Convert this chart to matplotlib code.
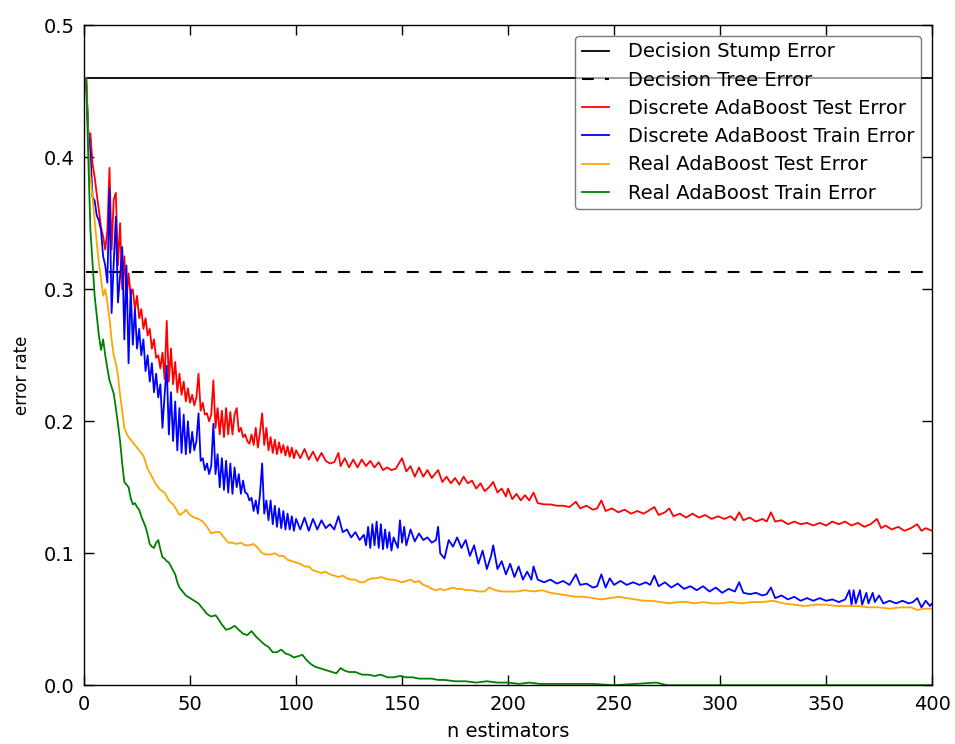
"""
AdaBoost 離散 / 實數版本的錯誤率比較圖
"""
import numpy as np
import matplotlib
matplotlib.use('Agg')
import matplotlib.pyplot as plt

plt.rcParams['font.family'] = ['DejaVu Sans']
plt.rcParams['lines.scale_dashes'] = False

# 基準錯誤率
stump_err = 0.46
tree_err = 0.313

# Discrete AdaBoost 測試誤差
red_n = [1, 2, 3, 4, 5, 6, 7, 8, 9, 10, 11, 12, 13, 14, 15, 16, 17, 18, 19, 20,
         21, 22, 23, 24, 25, 26, 27, 28, 29, 30, 31, 32, 33, 34, 35, 36, 37, 38, 39, 40,
         41, 42, 43, 44, 45, 46, 47, 48, 49, 50, 51, 52, 53, 54, 55, 56, 57, 58, 59, 60,
         61, 62, 63, 64, 65, 66, 67, 68, 69, 70, 71, 72, 73, 74, 75, 76, 77, 78, 79, 80,
         81, 82, 83, 84, 85, 86, 87, 88, 89, 90, 91, 92, 93, 94, 95, 96, 97, 98, 99, 100,
         102, 104, 106, 108, 110, 112, 114, 116, 118, 120, 121, 123, 125, 127, 129, 131,
         133, 135, 137, 139, 141, 143, 145, 147, 150, 152, 154, 156, 158, 160, 162, 164,
         167, 169, 171, 173, 175, 177, 179, 181, 183, 185, 187, 189, 191, 193, 195, 197,
         199, 200, 202, 204, 206, 208, 210, 212, 214, 217, 220, 223, 226, 229, 232, 234,
         237, 240, 242, 244, 246, 249, 252, 255, 258, 261, 264, 266, 269, 271, 274, 276,
         278, 281, 284, 287, 290, 293, 296, 299, 302, 305, 307, 309, 311, 314, 317, 320,
         322, 324, 326, 329, 332, 335, 338, 341, 344, 347, 350, 353, 356, 359, 362, 365,
         368, 371, 374, 376, 378, 381, 384, 387, 390, 393, 395, 397, 400]
red_err = [0.460, 0.418, 0.418, 0.395, 0.385, 0.372, 0.360, 0.347, 0.340, 0.330,
           0.345, 0.392, 0.330, 0.368, 0.373, 0.318, 0.350, 0.300, 0.325, 0.290,
           0.312, 0.296, 0.300, 0.285, 0.295, 0.278, 0.285, 0.270, 0.278, 0.265,
           0.270, 0.255, 0.262, 0.248, 0.250, 0.240, 0.252, 0.232, 0.276, 0.230,
           0.255, 0.228, 0.245, 0.222, 0.236, 0.220, 0.230, 0.215, 0.225, 0.214,
           0.220, 0.212, 0.218, 0.236, 0.208, 0.214, 0.205, 0.206, 0.200, 0.205,
           0.231, 0.195, 0.210, 0.190, 0.208, 0.188, 0.210, 0.190, 0.207, 0.190,
           0.205, 0.210, 0.192, 0.195, 0.188, 0.190, 0.185, 0.183, 0.190, 0.182,
           0.195, 0.180, 0.192, 0.206, 0.182, 0.195, 0.178, 0.188, 0.176, 0.186,
           0.175, 0.184, 0.176, 0.182, 0.174, 0.181, 0.173, 0.180, 0.172, 0.178,
           0.172, 0.179, 0.171, 0.177, 0.170, 0.176, 0.170, 0.168, 0.169, 0.176,
           0.166, 0.172, 0.165, 0.171, 0.165, 0.171, 0.166, 0.170, 0.165, 0.169,
           0.163, 0.165, 0.163, 0.164, 0.172, 0.162, 0.166, 0.158, 0.165, 0.158,
           0.163, 0.157, 0.163, 0.154, 0.158, 0.153, 0.157, 0.152, 0.158, 0.153,
           0.155, 0.149, 0.153, 0.147, 0.150, 0.154, 0.146, 0.149, 0.143, 0.149,
           0.141, 0.145, 0.140, 0.144, 0.140, 0.146, 0.138, 0.137, 0.137, 0.136,
           0.136, 0.135, 0.139, 0.134, 0.136, 0.133, 0.134, 0.140, 0.132, 0.134,
           0.131, 0.133, 0.130, 0.132, 0.130, 0.132, 0.135, 0.129, 0.131, 0.134,
           0.128, 0.130, 0.127, 0.130, 0.127, 0.129, 0.126, 0.128, 0.126, 0.128,
           0.125, 0.131, 0.125, 0.127, 0.124, 0.126, 0.124, 0.131, 0.124, 0.125,
           0.122, 0.124, 0.122, 0.123, 0.121, 0.123, 0.121, 0.124, 0.122, 0.124,
           0.121, 0.123, 0.120, 0.122, 0.126, 0.119, 0.121, 0.118, 0.120, 0.117,
           0.119, 0.122, 0.117, 0.119, 0.117]

# Discrete AdaBoost 訓練誤差
blue_n = [1, 2, 3, 4, 5, 6, 7, 8, 9, 10, 11, 12, 13, 14, 15, 16, 17, 18, 19, 20,
          21, 22, 23, 24, 25, 26, 27, 28, 29, 30, 31, 32, 33, 34, 35, 36, 37, 38, 39, 40,
          41, 42, 43, 44, 45, 46, 47, 48, 49, 50, 51, 52, 53, 54, 55, 56, 57, 58, 59, 60,
          61, 62, 63, 64, 65, 66, 67, 68, 69, 70, 71, 72, 73, 74, 75, 76, 77, 78, 79, 80,
          81, 82, 83, 84, 85, 86, 87, 88, 89, 90, 91, 92, 93, 94, 95, 96, 97, 98, 99, 100,
          102, 104, 106, 108, 110, 112, 114, 116, 118, 120, 122, 124, 126, 128, 130, 132,
          133, 134, 135, 136, 137, 138, 139, 140, 141, 142, 143, 144, 145, 146, 148, 149,
          150, 151, 152, 154, 156, 158, 160, 162, 164, 166, 167, 168, 170, 172, 174, 176,
          178, 180, 182, 184, 186, 188, 190, 192, 193, 195, 197, 199, 201, 203, 205, 207,
          209, 211, 212, 214, 217, 220, 223, 226, 229, 232, 234, 237, 240, 242, 244, 246,
          248, 250, 253, 256, 259, 262, 265, 267, 269, 271, 274, 277, 280, 283, 286, 289,
          292, 295, 298, 301, 304, 307, 309, 311, 314, 317, 320, 322, 324, 326, 329, 332,
          335, 338, 341, 344, 347, 350, 353, 356, 359, 361, 362, 363, 364, 366, 367, 369,
          370, 372, 373, 375, 377, 380, 383, 386, 389, 391, 393, 395, 397, 399, 400]
blue_err = [0.460, 0.420, 0.403, 0.370, 0.367, 0.356, 0.352, 0.345, 0.325, 0.318,
            0.305, 0.376, 0.282, 0.320, 0.355, 0.290, 0.310, 0.332, 0.262, 0.318,
            0.244, 0.300, 0.258, 0.285, 0.255, 0.270, 0.250, 0.262, 0.238, 0.250,
            0.230, 0.244, 0.222, 0.236, 0.218, 0.228, 0.195, 0.220, 0.242, 0.190,
            0.222, 0.185, 0.215, 0.178, 0.210, 0.176, 0.205, 0.175, 0.200, 0.176,
            0.192, 0.178, 0.185, 0.206, 0.170, 0.172, 0.163, 0.168, 0.160, 0.166,
            0.198, 0.160, 0.175, 0.150, 0.172, 0.148, 0.170, 0.146, 0.168, 0.145,
            0.165, 0.150, 0.160, 0.145, 0.155, 0.146, 0.145, 0.140, 0.142, 0.132,
            0.140, 0.130, 0.145, 0.168, 0.130, 0.140, 0.125, 0.140, 0.122, 0.136,
            0.120, 0.134, 0.119, 0.132, 0.118, 0.130, 0.118, 0.128, 0.117, 0.126,
            0.118, 0.127, 0.117, 0.126, 0.118, 0.125, 0.119, 0.122, 0.118, 0.128,
            0.116, 0.118, 0.112, 0.116, 0.110, 0.114,
            0.106, 0.120, 0.104, 0.122, 0.106, 0.124, 0.104, 0.122, 0.103, 0.118,
            0.104, 0.116, 0.102, 0.112, 0.104, 0.125,
            0.108, 0.120, 0.106, 0.118, 0.109, 0.115, 0.110, 0.112, 0.108, 0.110,
            0.120, 0.100, 0.096, 0.110, 0.105, 0.112,
            0.104, 0.110, 0.098, 0.106, 0.092, 0.102, 0.088, 0.098, 0.106, 0.088,
            0.094, 0.084, 0.092, 0.082, 0.090, 0.080,
            0.086, 0.080, 0.090, 0.080, 0.078, 0.080, 0.077, 0.079, 0.076, 0.084,
            0.076, 0.077, 0.074, 0.075, 0.084, 0.074,
            0.081, 0.076, 0.079, 0.076, 0.078, 0.076, 0.078, 0.076, 0.083, 0.075,
            0.078, 0.074, 0.077, 0.073, 0.075, 0.072,
            0.075, 0.071, 0.074, 0.070, 0.073, 0.071, 0.078, 0.070, 0.069, 0.070,
            0.068, 0.069, 0.074, 0.066, 0.068, 0.065,
            0.067, 0.064, 0.066, 0.064, 0.066, 0.064, 0.065, 0.063, 0.065, 0.072,
            0.061, 0.072, 0.062, 0.072, 0.061, 0.070,
            0.062, 0.070, 0.063, 0.068, 0.062, 0.064, 0.062, 0.064, 0.062, 0.063,
            0.066, 0.059, 0.064, 0.060, 0.062]

# Real AdaBoost 測試誤差
orange_n = [1, 2, 3, 4, 5, 6, 7, 8, 9, 10, 11, 12, 13, 14, 15, 16, 17, 18, 19, 20,
            21, 22, 24, 26, 28, 30, 32, 34, 36, 38, 40, 42, 44, 45, 47, 48, 50, 52, 54,
            56, 58, 60, 62, 64, 66, 68, 70, 72, 74, 76, 78, 80, 82, 84, 86, 88, 90, 92,
            94, 96, 98, 100, 102, 104, 106, 108, 110, 112, 114, 116, 118, 120, 122, 124,
            126, 128, 130, 132, 134, 136, 138, 140, 142, 144, 146, 148, 150, 152, 154,
            156, 158, 160, 162, 164, 166, 168, 170, 172, 174, 176, 178, 180, 183, 186,
            189, 191, 194, 197, 200, 204, 208, 212, 216, 220, 224, 228, 232, 236, 240,
            244, 248, 252, 256, 260, 264, 268, 272, 276, 280, 284, 288, 292, 296, 300,
            305, 310, 315, 320, 325, 330, 335, 340, 345, 350, 355, 360, 365, 370, 375,
            380, 385, 390, 393, 396, 400]
orange_err = [0.460, 0.410, 0.385, 0.370, 0.352, 0.335, 0.320, 0.308, 0.295, 0.300,
              0.290, 0.278, 0.262, 0.250, 0.244, 0.235, 0.220, 0.208, 0.195, 0.191,
              0.188, 0.186, 0.182, 0.178, 0.174, 0.164, 0.158, 0.152, 0.148, 0.146,
              0.140, 0.137, 0.132, 0.129, 0.131, 0.133, 0.129, 0.127, 0.126, 0.124,
              0.120, 0.115, 0.116, 0.116, 0.112, 0.108, 0.108, 0.107, 0.108, 0.106,
              0.106, 0.107, 0.104, 0.100, 0.099, 0.099, 0.100, 0.098, 0.098, 0.095,
              0.094, 0.093, 0.092, 0.090, 0.090, 0.087, 0.086, 0.085, 0.086, 0.084,
              0.083, 0.082, 0.083, 0.081, 0.080, 0.080, 0.078, 0.078, 0.080, 0.081,
              0.081, 0.082, 0.081, 0.080, 0.080, 0.079, 0.078, 0.079, 0.080, 0.078,
              0.079, 0.076, 0.075, 0.073, 0.072, 0.073, 0.072, 0.073, 0.074, 0.073,
              0.073, 0.072, 0.072, 0.071, 0.071, 0.074, 0.072, 0.071, 0.071, 0.071,
              0.072, 0.071, 0.072, 0.070, 0.069, 0.068, 0.067, 0.067, 0.066, 0.065,
              0.066, 0.067, 0.066, 0.065, 0.064, 0.064, 0.063, 0.062, 0.063, 0.063,
              0.062, 0.063, 0.062, 0.062, 0.063, 0.062, 0.063, 0.063, 0.064, 0.062,
              0.061, 0.060, 0.061, 0.061, 0.060, 0.060, 0.060, 0.059, 0.059, 0.058,
              0.059, 0.059, 0.057, 0.058, 0.058]

# Real AdaBoost 訓練誤差
green_n = [1, 2, 3, 4, 5, 6, 7, 8, 9, 10, 11, 12, 13, 14, 15, 16, 17, 18, 19, 20,
           21, 22, 23, 24, 25, 26, 27, 28, 29, 30, 31, 32, 33, 34, 35, 36, 37, 38, 39, 40,
           41, 42, 43, 44, 45, 46, 48, 50, 52, 54, 56, 58, 60, 62, 63, 65, 67, 69, 71, 73,
           75, 77, 79, 81, 83, 85, 87, 89, 91, 93, 95, 97, 99, 101, 103, 105, 107, 109,
           111, 113, 115, 117, 119, 121, 123, 125, 128, 131, 134, 137, 140, 143, 146,
           149, 152, 155, 158, 161, 164, 167, 170, 175, 180, 185, 190, 195, 200, 205,
           210, 215, 220, 230, 240, 250, 260, 270, 275, 290, 320, 400]
green_err = [0.460, 0.400, 0.345, 0.320, 0.295, 0.280, 0.265, 0.254, 0.262, 0.250,
             0.240, 0.231, 0.226, 0.221, 0.210, 0.198, 0.185, 0.168, 0.154, 0.152,
             0.150, 0.142, 0.137, 0.138, 0.135, 0.133, 0.128, 0.124, 0.120, 0.114,
             0.107, 0.105, 0.104, 0.108, 0.110, 0.103, 0.097, 0.096, 0.094, 0.093,
             0.090, 0.087, 0.084, 0.078, 0.074, 0.072, 0.068, 0.066, 0.064, 0.062,
             0.058, 0.054, 0.052, 0.053, 0.051, 0.046, 0.042, 0.043, 0.045, 0.042,
             0.039, 0.038, 0.041, 0.037, 0.034, 0.031, 0.029, 0.025, 0.025, 0.027,
             0.024, 0.023, 0.021, 0.022, 0.023, 0.019, 0.016, 0.014, 0.013, 0.012,
             0.011, 0.010, 0.009, 0.013, 0.011, 0.010, 0.010, 0.008, 0.008, 0.007,
             0.008, 0.006, 0.006, 0.007, 0.006, 0.006, 0.005, 0.005, 0.005, 0.004,
             0.004, 0.003, 0.003, 0.002, 0.003, 0.002, 0.002, 0.001, 0.002, 0.001,
             0.001, 0.001, 0.001, 0.000, 0.001, 0.002, 0.000, 0.000, 0.000, 0.000]

n_estimators = 400

fig = plt.figure(figsize=(9.55, 7.44), dpi=100, facecolor='white')
ax = fig.add_axes([0.088, 0.079, 0.888, 0.887])

ax.plot([1, n_estimators], [stump_err] * 2, 'k-', lw=1.3, label='Decision Stump Error')
ax.plot([1, n_estimators], [tree_err] * 2, 'k--', lw=1.5, dashes=(8.5, 8),
        label='Decision Tree Error')
ax.plot(red_n, red_err, color='red', lw=1.3, label='Discrete AdaBoost Test Error')
ax.plot(blue_n, blue_err, color='blue', lw=1.3, label='Discrete AdaBoost Train Error')
ax.plot(orange_n, orange_err, color='orange', lw=1.3, label='Real AdaBoost Test Error')
ax.plot(green_n, green_err, color='green', lw=1.3, label='Real AdaBoost Train Error')

ax.set_xlim(0, 400)
ax.set_ylim(0.0, 0.5)
ax.set_xticks(np.arange(0, 401, 50))
ax.set_yticks(np.arange(0, 0.51, 0.1))
ax.set_yticklabels(['0.0', '0.1', '0.2', '0.3', '0.4', '0.5'])
ax.tick_params(direction='in', top=True, right=True, length=7, width=1,
               labelsize=14, pad=7)
for s in ax.spines.values():
    s.set_linewidth(1.0)

ax.set_xlabel('n estimators', fontsize=14, labelpad=6)
ax.set_ylabel('error rate', fontsize=12)
ax.yaxis.set_label_coords(-0.063, 0.47)

leg = ax.legend(loc='upper right', fancybox=True, fontsize=14, framealpha=0.6,
                handlelength=1.4, handletextpad=1.0, labelspacing=0.475,
                borderpad=0.33, borderaxespad=0.55)
leg.get_frame().set_edgecolor('#222222')

plt.savefig('out.png', dpi=100, facecolor='white')
